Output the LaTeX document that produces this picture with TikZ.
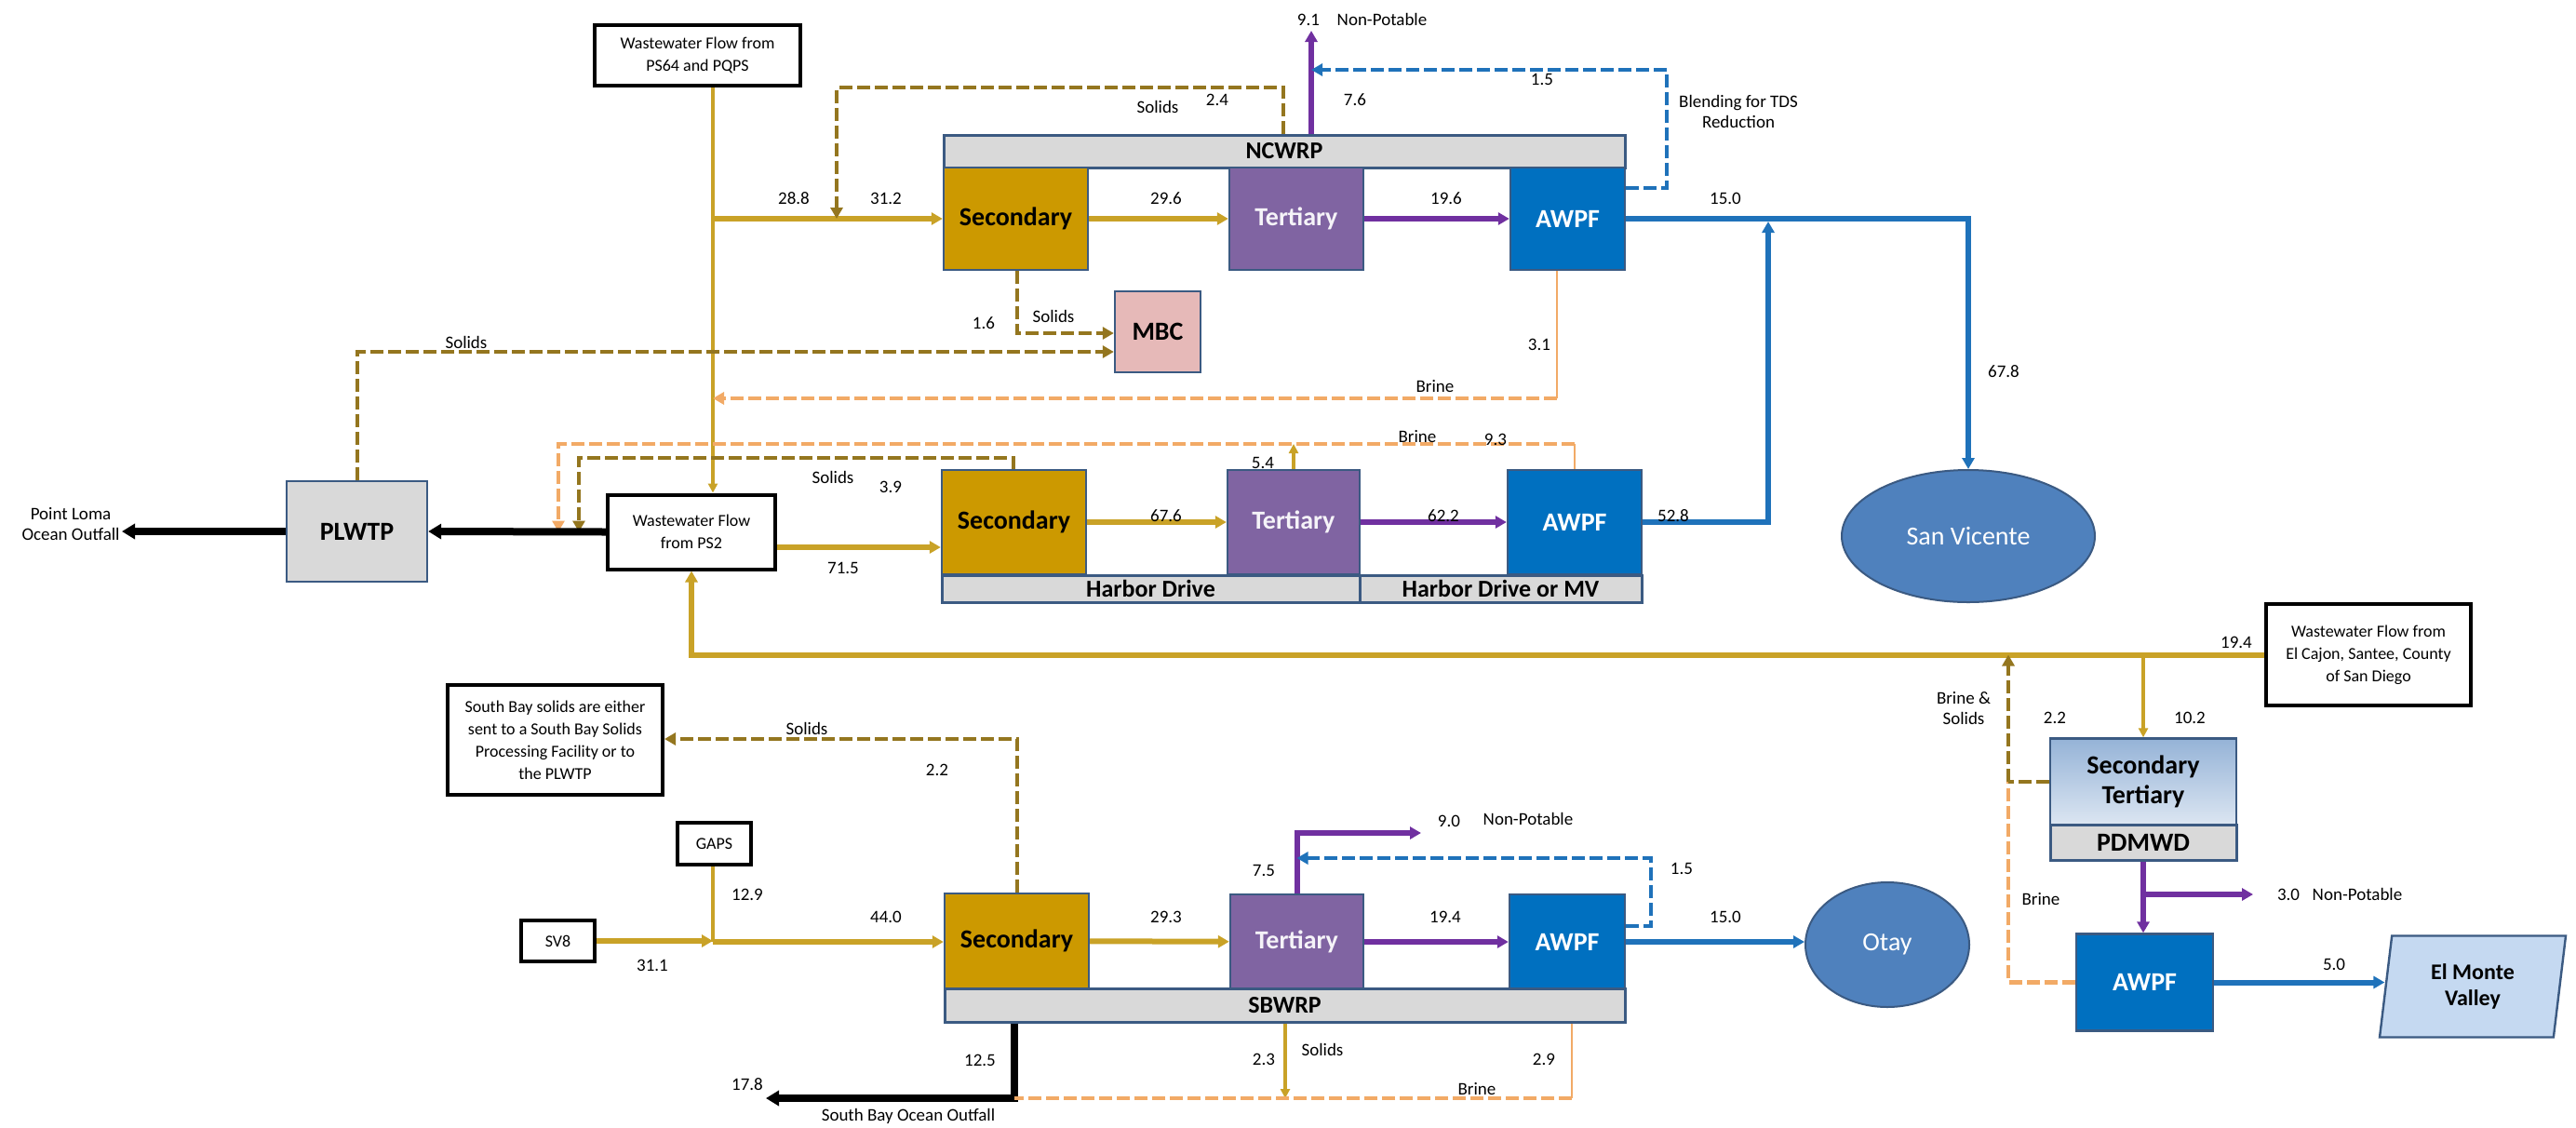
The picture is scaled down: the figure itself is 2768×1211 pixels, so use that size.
\documentclass[tikz,border=0pt]{standalone}
\usepackage{fontspec}
\setmainfont{Carlito}
\usetikzlibrary{arrows.meta,shapes.geometric,positioning,calc}

\definecolor{wwgold}{HTML}{C9A227}
\definecolor{secfill}{HTML}{CC9900}
\definecolor{terfill}{HTML}{8064A2}
\definecolor{awpffill}{HTML}{0070C0}
\definecolor{frame}{HTML}{3B5A82}
\definecolor{bargray}{HTML}{D9D9D9}
\definecolor{mbcfill}{HTML}{E6B9B8}
\definecolor{resfill}{HTML}{4F81BD}
\definecolor{purp}{HTML}{7030A0}
\definecolor{awblue}{HTML}{1F72BA}
\definecolor{solidc}{HTML}{94761F}
\definecolor{brinec}{HTML}{F2AA66}
\definecolor{lightbl}{HTML}{C5D9F1}
\definecolor{pdtop}{HTML}{95B3D7}
\definecolor{pdbot}{HTML}{DCE6F2}

\begin{document}
\begin{tikzpicture}[
  x=0.5pt, y=-0.5pt,
  font=\fontsize{9.5}{11}\selectfont,
  >={Triangle[length=6pt,width=6.5pt]},
  unit/.style={rectangle, draw=frame, line width=1.2pt, inner sep=2pt, align=center, font=\bfseries\fontsize{14}{16}\selectfont},
  secbox/.style={unit, fill=secfill, text=black},
  terbox/.style={unit, fill=terfill, text=white!92!terfill},
  awpfbox/.style={unit, fill=awpffill, text=white},
  barbox/.style={rectangle, draw=frame, line width=1.5pt, fill=bargray, inner sep=0pt, font=\bfseries\fontsize{13}{15}\selectfont},
  srcbox/.style={rectangle, draw=black, line width=2pt, fill=white, align=center, inner sep=2pt, font=\fontsize{9}{12}\selectfont},
  resv/.style={ellipse, draw=frame, line width=1pt, fill=resfill, text=white, font=\fontsize{14}{16}\selectfont},
  lbl/.style={inner sep=1pt, align=center},
  gflow/.style={draw=wwgold, line width=3pt},
  gthin/.style={draw=wwgold, line width=1.6pt, >={Triangle[length=5pt,width=5pt]}},
  pflow/.style={draw=purp, line width=3pt},
  bflow/.style={draw=awblue, line width=3pt},
  bdash/.style={draw=awblue, line width=2.4pt, dash pattern=on 7pt off 2.5pt},
  solids/.style={draw=solidc, line width=2.4pt, dash pattern=on 7pt off 2.5pt},
  brine/.style={draw=brinec, line width=2.4pt, dash pattern=on 7pt off 2.5pt},
  brinethin/.style={draw=brinec, line width=1.2pt},
  outfall/.style={draw=black, line width=4pt, >={Triangle[length=7pt,width=8pt]}}
]
  \path[use as bounding box, fill=white] (0,0) rectangle (2768,1211);

  % NCWRP plant
  \node[barbox, minimum width=366pt, minimum height=17.5pt] (ncbar) at (1380,162.5) {NCWRP};
  \node[secbox, minimum width=77.5pt, minimum height=55pt] (sec1) at (1091.5,235) {Secondary};
  \node[terbox, minimum width=72pt, minimum height=55pt] (ter1) at (1393,235) {Tertiary};
  \node[awpfbox, minimum width=61.5pt, minimum height=55pt] (awpf1) at (1684.5,235) {AWPF};
  \node[unit, fill=mbcfill, minimum width=46pt, minimum height=43.5pt] (mbc) at (1244,356.5) {MBC};

  % Harbor Drive plant
  \node[secbox, minimum width=77.5pt, minimum height=56pt] (sec2) at (1089.5,561) {Secondary};
  \node[terbox, minimum width=71pt, minimum height=56pt] (ter2) at (1390,561) {Tertiary};
  \node[awpfbox, minimum width=72pt, minimum height=56pt] (awpf2) at (1692,561) {AWPF};
  \node[barbox, minimum width=224.5pt, minimum height=14.5pt] (hdbar) at (1236.5,632.5) {Harbor Drive};
  \node[barbox, minimum width=151.5pt, minimum height=14.5pt] (mvbar) at (1612.5,632.5) {Harbor Drive or MV};

  % SBWRP plant
  \node[secbox, minimum width=77.5pt, minimum height=51pt] (sec3) at (1092.5,1011) {Secondary};
  \node[terbox, minimum width=71.5pt, minimum height=51pt] (ter3) at (1393.5,1012) {Tertiary};
  \node[awpfbox, minimum width=62pt, minimum height=51pt] (awpf3) at (1684,1012) {AWPF};
  \node[barbox, minimum width=365.5pt, minimum height=18pt] (sbbar) at (1380.5,1080) {SBWRP};

  % PDMWD plant
  \node[unit, top color=pdtop, bottom color=pdbot, text=black, minimum width=100pt, minimum height=46.5pt] (pdmwd) at (2303,840) {Secondary\\Tertiary};
  \node[barbox, font=\bfseries\fontsize{14}{16}\selectfont, minimum width=100pt, minimum height=19pt] (pdbar) at (2303,905.5) {PDMWD};
  \node[awpfbox, minimum width=73.5pt, minimum height=52pt] (awpf4) at (2304.5,1055.5) {AWPF};

  % Treatment plant, reservoirs
  \node[unit, fill=bargray, minimum width=75.5pt, minimum height=54pt] (plwtp) at (383.5,571) {PLWTP};
  \node[resv, minimum width=136pt, minimum height=71pt] (sv) at (2115,576) {San Vicente};
  \node[resv, minimum width=88pt, minimum height=67pt] (otay) at (2028,1015) {Otay};
  \node[trapezium, trapezium left angle=78, trapezium right angle=102, trapezium stretches body,
        draw=frame, line width=1.2pt, fill=lightbl, align=center, font=\bfseries\fontsize{12}{14}\selectfont,
        minimum width=100pt, minimum height=54.5pt] (elmonte) at (2657,1060) {El Monte\\Valley};

  % Sources and notes
  \node[srcbox, minimum width=110.5pt, minimum height=32.5pt] (ps64) at (749.5,59.5) {Wastewater Flow from\\PS64 and PQPS};
  \node[srcbox, minimum width=90pt, minimum height=40pt] (ps2) at (743,571.5) {Wastewater Flow\\from PS2};
  \node[srcbox, minimum width=110pt, minimum height=54.5pt] (elcajon) at (2545,703.5) {Wastewater Flow from\\El Cajon, Santee, County\\of San Diego};
  \node[srcbox, minimum width=115.5pt, minimum height=59pt] (note) at (596.5,795) {South Bay solids are either\\sent to a South Bay Solids\\Processing Facility or to\\the PLWTP};
  \node[srcbox, minimum width=39.5pt, minimum height=22.5pt] (gaps) at (767.5,906.5) {GAPS};
  \node[srcbox, minimum width=39.5pt, minimum height=22pt] (sv8) at (599.5,1011) {SV8};
  \node[lbl, anchor=east] (plout) at (131,563) {Point Loma\\Ocean Outfall};
  \node[lbl] (sbout) at (976,1199) {South Bay Ocean Outfall};

  % NCWRP flows
  \coordinate (jn1) at (766,235);
  \draw[gthin,->] (ps64.south -| jn1) -- (ps2.north -| jn1);
  \draw[gflow,->] (jn1) -- (sec1.west);
  \draw[gflow,->] (sec1) -- (ter1);
  \draw[pflow,->] (ter1) -- (awpf1);
  \coordinate (rc1) at (1379,94);
  \coordinate (rc2) at (899,94);
  \draw[solids,->] (ncbar.north -| rc1) -- (rc1) -- (rc2) -- (rc2 |- jn1);
  \coordinate (np1) at (1409,33);
  \draw[pflow,->] (ncbar.north -| np1) -- (np1);
  \coordinate (bl1) at (1791,202);
  \coordinate (bl2) at (1791,75);
  \draw[bdash,->] (awpf1.east |- bl1) -- (bl1) -- (bl2) -- (bl2 -| np1);
  \coordinate (svj) at (2115,235);
  \draw[bflow,->] (awpf1.east) -- (svj) -- (sv.north);
  \coordinate (mb1) at (1093,358);
  \draw[solids,->] (sec1.south -| mb1) -- (mb1) -- (mbc.west |- mb1);
  \coordinate (mb2) at (384,378);
  \draw[solids,->] (plwtp.north -| mb2) -- (mb2) -- (mbc.west |- mb2);
  \coordinate (br1) at (1673,428);
  \draw[brinethin] (awpf1.south -| br1) -- (br1);
  \draw[brine,->] (br1) -- (br1 -| jn1);

  % Harbor Drive flows
  \coordinate (br2) at (1692,477);
  \coordinate (br3) at (600,477);
  \draw[brinethin] (awpf2.north) -- (br2);
  \draw[brine,->] (br2) -- (br3) -- (br3 |- ps2.west);
  \coordinate (sd1) at (1089,492);
  \coordinate (sd2) at (622,492);
  \draw[solids,->] (sec2.north -| sd1) -- (sd1) -- (sd2) -- (sd2 |- ps2.west);
  \draw[gthin,->] (ter2.north) -- (ter2.north |- br2);
  \coordinate (p71) at (833,588);
  \draw[gflow,->] (ps2.east |- p71) -- (sec2.west |- p71);
  \draw[gflow,->] (sec2) -- (ter2);
  \draw[pflow,->] (ter2) -- (awpf2);
  \coordinate (up1) at (1900,561);
  \draw[bflow,->,shorten >=1.5pt] (awpf2.east) -- (up1) -- (up1 |- svj);
  \draw[outfall,->] (ps2.west) -- (plwtp.east);
  \draw[outfall,->] (plwtp.west) -- (plwtp.west -| plout.east);

  % East County and PDMWD flows
  \draw[gflow,->] (elcajon.west) -- (elcajon.west -| ps2.south) -- (ps2.south);
  \draw[gthin, line width=2.4pt,->] (elcajon.west -| pdmwd.north) -- (pdmwd.north);
  \coordinate (bs) at (2158,840);
  \draw[brine] (awpf4.west) -- (awpf4.west -| bs) -- (bs);
  \draw[solids] (pdmwd.west) -- (bs);
  \draw[solids,->] (bs) -- (bs |- elcajon.west);
  \draw[pflow,->] (pdbar.south) -- (pdbar.south |- awpf4.north);
  \coordinate (np3) at (2421,961);
  \draw[pflow,->] (pdbar.south |- np3) -- (np3);
  \draw[bflow,->] (awpf4.east) -- (awpf4.east -| elmonte.west);

  % SBWRP flows
  \coordinate (sb1) at (1093,794);
  \draw[solids,->] (sec3.north -| sb1) -- (sb1) -- (note.east |- sb1);
  \coordinate (jn2) at (766,1012);
  \draw[gthin] (gaps.south -| jn2) -- (jn2);
  \draw[gflow,->] (sv8.east) -- (sv8.east -| jn2);
  \draw[gflow,->] (jn2) -- (sec3.west |- jn2);
  \draw[gflow,->] (sec3) -- (ter3);
  \draw[pflow,->] (ter3) -- (awpf3);
  \draw[bflow,->] (awpf3.east) -- (awpf3.east -| otay.west);
  \coordinate (np2) at (1527,895);
  \draw[pflow,->] (ter3.north) -- (ter3.north |- np2) -- (np2);
  \coordinate (bl3) at (1774,995);
  \coordinate (bl4) at (1774,922);
  \draw[bdash,->] (awpf3.east |- bl3) -- (bl3) -- (bl4) -- (bl4 -| ter3.north);
  \coordinate (of1) at (1090,1180);
  \coordinate (of2) at (823,1180);
  \draw[outfall,->] (sbbar.south -| of1) -- (of1) -- (of2);
  \coordinate (sd3) at (1381,1180);
  \draw[gthin,->] (sbbar.south -| sd3) -- (sd3);
  \coordinate (br4) at (1689,1180);
  \draw[brinethin] (sbbar.south -| br4) -- (br4);
  \draw[brine] (br4) -- (of1);

  % Flow values
  \foreach \v/\x/\y [count=\i] in {28.8/853/213, 31.2/952/213, 2.4/1308/107, 9.1/1406/21, 7.6/1456/107,
      1.5/1657/85, 29.6/1253/213, 19.6/1554/213, 15.0/1854/213, 1.6/1057/347, 3.1/1654/370,
      67.8/2153/399, 9.3/1607/472, 5.4/1357/497, 3.9/957/523, 71.5/906/610, 67.6/1253/554,
      62.2/1551/554, 52.8/1798/554, 19.4/2403/690, 2.2/2208/771, 10.2/2353/771, 3.0/2459/961,
      5.0/2508/1036, 2.2/1007/827, 12.9/803/961, 44.0/952/985, 31.1/701/1037, 29.3/1253/985,
      9.0/1557/882, 7.5/1358/935, 1.5/1807/933, 19.4/1553/985, 15.0/1854/985, 12.5/1053/1139,
      17.8/803/1165, 2.3/1358/1138, 2.9/1659/1138}
    \node[lbl] (val\i) at (\x,\y) {\v};

  % Stream names
  \foreach \w/\x/\y [count=\i] in {Solids/1244/115, Solids/1132/340, Solids/501/368, Solids/895/513,
      Solids/867/783, Solids/1421/1128, Brine/1542/415, Brine/1523/469, Brine/2193/966, Brine/1587/1170,
      Non-Potable/1485/21, Non-Potable/1642/880, Non-Potable/2533/961}
    \node[lbl] (word\i) at (\x,\y) {\w};
  \node[lbl] (blend) at (1868,120) {Blending for TDS\\Reduction};
  \node[lbl] (bsol) at (2110,761) {Brine \&\\Solids};

\end{tikzpicture}
\end{document}
